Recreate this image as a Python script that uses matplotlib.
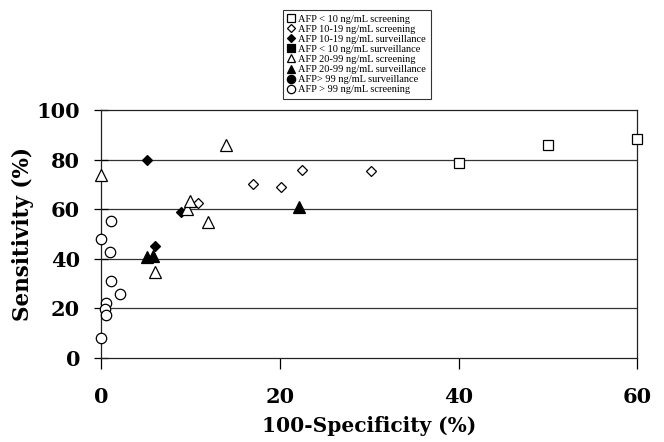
import matplotlib
matplotlib.use("Agg")
import matplotlib.pyplot as plt

# data (x = 100-specificity, y = sensitivity)
sq_open_x = [40.0, 50.0, 60.0]
sq_open_y = [78.8, 85.9, 88.2]

dia_open_x = [10.8, 17.0, 20.1, 22.5, 30.2]
dia_open_y = [62.4, 70.2, 69.1, 76.0, 75.3]

dia_fill_x = [5.1, 6.1, 9.0]
dia_fill_y = [80.0, 45.3, 58.7]

sq_fill_x = []
sq_fill_y = []

tri_open_x = [0.0, 6.1, 9.6, 10.0, 12.0, 14.0]
tri_open_y = [74.0, 34.6, 60.0, 63.4, 54.8, 85.9]

tri_fill_x = [5.1, 5.8, 22.1]
tri_fill_y = [40.6, 41.0, 60.8]

circ_fill_x = []
circ_fill_y = []

circ_open_x = [0.0, 1.1, 0.0, 1.0, 1.1, 2.1, 0.6, 0.5, 0.6]
circ_open_y = [8.0, 55.4, 48.0, 42.9, 31.1, 25.8, 22.2, 19.6, 17.2]

labels = [
    "AFP < 10 ng/mL screening",
    "AFP 10-19 ng/mL screening",
    "AFP 10-19 ng/mL surveillance",
    "AFP < 10 ng/mL surveillance",
    "AFP 20-99 ng/mL screening",
    "AFP 20-99 ng/mL surveillance",
    "AFP> 99 ng/mL surveillance",
    "AFP > 99 ng/mL screening",
]

plt.rcParams['font.family'] = ['Liberation Serif', 'DejaVu Serif']
big = ['DejaVu Serif']

fig = plt.figure(figsize=(6.64, 4.42), dpi=100)
ax = fig.add_axes([0.152, 0.190, 0.808, 0.561])

series = [
    (sq_open_x, sq_open_y, 's', 'white', 7.8),
    (dia_open_x, dia_open_y, 'D', 'white', 5.5),
    (dia_fill_x, dia_fill_y, 'D', 'black', 5.5),
    (sq_fill_x, sq_fill_y, 's', 'black', 7.8),
    (tri_open_x, tri_open_y, '^', 'white', 8),
    (tri_fill_x, tri_fill_y, '^', 'black', 8.5),
    (circ_fill_x, circ_fill_y, 'o', 'black', 7.5),
    (circ_open_x, circ_open_y, 'o', 'white', 7.5),
]

handles = []
for (xs, ys, m, fc, ms), lab in zip(series, labels):
    h, = ax.plot(xs, ys, linestyle='none', marker=m, markerfacecolor=fc,
                 markeredgecolor='black', markeredgewidth=0.9, markersize=ms,
                 clip_on=False, zorder=3, label=lab)
    handles.append(h)

ax.set_xlim(0, 60)
ax.set_ylim(0, 100)
ax.set_xticks([0, 20, 40, 60])
ax.set_yticks([0, 20, 40, 60, 80, 100])
for v in [20, 40, 60, 80]:
    ax.axhline(v, color='#333333', linewidth=0.9, zorder=1)

for s in ax.spines.values():
    s.set_color('#222222')
    s.set_linewidth(0.9)

ax.tick_params(axis='y', direction='inout', length=10, width=0.9, pad=10,
               labelsize=15)
ax.tick_params(axis='x', direction='out', length=8, width=0.9, pad=13,
               labelsize=15)
for t in ax.get_xticklabels() + ax.get_yticklabels():
    t.set_fontweight('bold')
    t.set_family(big)

ax.set_xlabel("100-Specificity (%)", fontsize=14.5, fontweight='bold',
              family=big, labelpad=6)
ax.set_ylabel("Sensitivity (%)", fontsize=15.5, fontweight='bold',
              family=big, va='center')
ax.yaxis.set_label_coords(-0.145, 0.5)

leg_ms = [5.5, 4.5, 4.5, 5.5, 6, 6, 6, 6]
leg = fig.legend(handles=handles, labels=labels, loc='upper left',
                 bbox_to_anchor=(0.426, 0.977), fontsize=7.5, frameon=True,
                 fancybox=False, edgecolor='black', borderpad=0.4,
                 handlelength=0.8, handletextpad=0.3, labelspacing=0.08,
                 borderaxespad=0)
leg.get_frame().set_linewidth(0.8)
for h, ms in zip(leg.legend_handles, leg_ms):
    h.set_markersize(ms)

fig.savefig("out.png", dpi=100)
